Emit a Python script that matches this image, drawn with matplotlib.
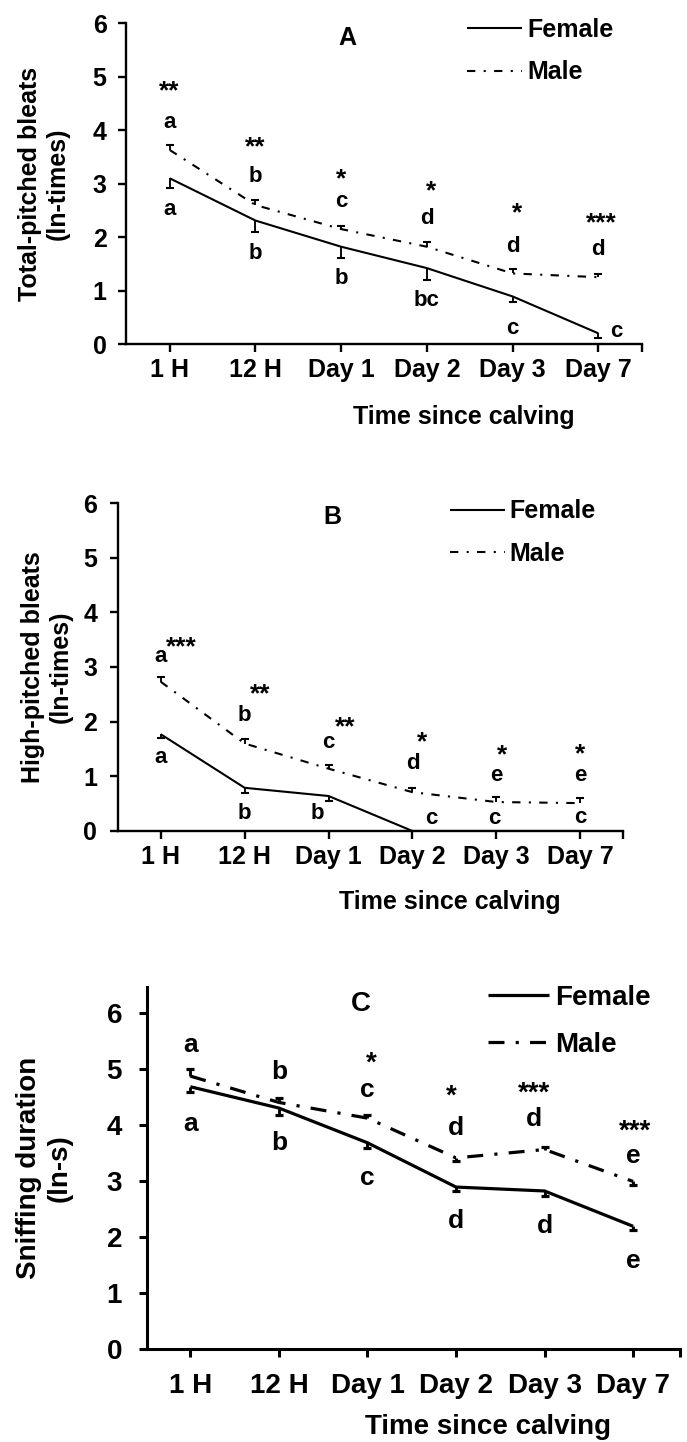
import matplotlib
matplotlib.use('Agg')
import matplotlib.pyplot as plt
from matplotlib.ticker import FixedLocator
import numpy as np

plt.rcParams['font.family'] = ['Liberation Sans', 'DejaVu Sans']
plt.rcParams['font.weight'] = 'bold'

categories = ['1 H', '12 H', 'Day 1', 'Day 2', 'Day 3', 'Day 7']
series_names = ['Female', 'Male']

# ---------------- Panel A: Total-pitched bleats ----------------
a_female = [3.10, 2.31, 1.82, 1.42, 0.89, 0.20]
a_female_err_low = [0.19, 0.21, 0.22, 0.22, 0.10, 0.09]
a_female_err_up = [0, 0, 0, 0, 0, 0]
a_male = [3.63, 2.60, 2.15, 1.82, 1.32, 1.25]
a_male_err_low = [0, 0, 0, 0, 0, 0]
a_male_err_up = [0.09, 0.09, 0.06, 0.08, 0.09, 0.06]
a_sig = ['**', '**', '*', '*', '*', '***']
a_sig_y = [4.80, 3.76, 3.16, 2.94, 2.52, 2.33]
a_sig_dx = [0, 0, 0, 0.05, 0.05, 0.03]
a_male_letters = ['a', 'b', 'c', 'd', 'd', 'd']
a_male_letters_y = [4.14, 3.13, 2.66, 2.35, 1.83, 1.76]
a_male_letters_dx = [0, 0, 0, 0, 0, 0]
a_female_letters = ['a', 'b', 'b', 'bc', 'c', 'c']
a_female_letters_y = [2.52, 1.70, 1.23, 0.82, 0.29, 0.23]
a_female_letters_dx = [0, 0, 0, 0, 0, 0.21]

# ---------------- Panel B: High-pitched bleats ----------------
b_female = [1.77, 0.79, 0.64, 0.0, 0.0, 0.0]
b_female_err_low = [0.06, 0.10, 0.10, 0, 0, 0]
b_female_err_up = [0, 0, 0, 0, 0, 0]
b_male = [2.73, 1.60, 1.14, 0.71, 0.53, 0.51]
b_male_err_low = [0, 0, 0, 0, 0, 0]
b_male_err_up = [0.09, 0.09, 0.06, 0.07, 0.09, 0.10]
b_sig = ['***', '**', '**', '*', '*', '*']
b_sig_y = [3.43, 2.58, 1.97, 1.69, 1.46, 1.47]
b_sig_dx = [0.25, 0.19, 0.20, 0.11, 0.07, 0.0]
b_male_letters = ['a', 'b', 'c', 'd', 'e', 'e']
b_male_letters_y = [3.20, 2.12, 1.61, 1.23, 1.01, 1.01]
b_male_letters_dx = [0, 0, 0, 0, 0, 0]
b_female_letters = ['a', 'b', 'b', 'c', 'c', 'c']
b_female_letters_y = [1.34, 0.32, 0.32, 0.23, 0.23, 0.24]
b_female_letters_dx = [0, 0, -0.13, 0.23, -0.03, 0]

# ---------------- Panel C: Sniffing duration ----------------
c_female = [4.68, 4.30, 3.68, 2.89, 2.82, 2.19]
c_female_err_low = [0.10, 0.12, 0.09, 0.07, 0.09, 0.07]
c_female_err_up = [0, 0, 0, 0, 0, 0]
c_male = [4.87, 4.40, 4.12, 3.41, 3.56, 2.99]
c_male_err_low = [0, 0, 0, 0.05, 0, 0.06]
c_male_err_up = [0.13, 0.08, 0.06, 0, 0.05, 0]
c_sig = ['', '', '*', '*', '***', '***']
c_sig_y = [0, 0, 5.17, 4.57, 4.63, 3.95]
c_sig_dx = [0, 0, 0.04, -0.05, -0.12, 0.02]
c_male_letters = ['a', 'b', 'c', 'd', 'd', 'e']
c_male_letters_y = [5.43, 4.94, 4.63, 3.95, 4.10, 3.44]
c_male_letters_dx = [0, 0, 0, 0, -0.12, 0]
c_female_letters = ['a', 'b', 'c', 'd', 'd', 'e']
c_female_letters_y = [4.01, 3.67, 3.05, 2.28, 2.19, 1.57]
c_female_letters_dx = [0, 0, 0, 0, 0, 0]

W, H = 687, 1442
fig = plt.figure(figsize=(W / 100, H / 100), dpi=100)


def px_axes(left, right, top, bottom):
    return fig.add_axes([left / W, (H - bottom) / H, (right - left) / W, (bottom - top) / H])


def draw_panel(ax, female, f_lo, f_up, male, m_lo, m_up, sig, sig_y, sig_dx,
               ml, ml_y, ml_dx, fl, fl_y, fl_dx, title, title_xy, ylabel,
               xlim, ylim, lw, male_dash, spine_w, fs_tick, fs_lab, fs_let,
               fs_sig, ytick_pad, xtick_pad, ylab_x, xlab_xy, leg_anchor,
               leg_space):
    x = np.arange(len(categories))
    female = np.array(female)
    male = np.array(male)
    f_lo, f_up = np.array(f_lo), np.array(f_up)
    m_lo, m_up = np.array(m_lo), np.array(m_up)

    lf, = ax.plot(x, female, color='black', lw=lw, solid_capstyle='butt',
                  label=series_names[0], zorder=3)
    lm, = ax.plot(x, male, color='black', lw=lw, dashes=male_dash,
                  dash_capstyle='butt', label=series_names[1], zorder=3)

    for vals, lo, up in [(female, f_lo, f_up), (male, m_lo, m_up)]:
        ax.errorbar(x, vals, yerr=[lo, up], fmt='none', ecolor='black',
                    elinewidth=lw * 0.9, capsize=0, zorder=3)
        ends_lo = lo > 0
        ends_up = up > 0
        ax.plot(x[ends_lo], (vals - lo)[ends_lo], ls='none', marker='_',
                ms=6, mew=lw, color='black', zorder=3)
        ax.plot(x[ends_up], (vals + up)[ends_up], ls='none', marker='_',
                ms=6, mew=lw, color='black', zorder=3)

    for i in range(len(categories)):
        if sig[i]:
            ax.annotate(sig[i], (x[i] + sig_dx[i], sig_y[i]), xytext=(0, -3),
                        textcoords='offset points', ha='center', va='center',
                        fontsize=fs_sig, fontweight='bold')
        ax.text(x[i] + ml_dx[i], ml_y[i], ml[i], ha='center', va='center',
                fontsize=fs_let, fontweight='bold')
        ax.text(x[i] + fl_dx[i], fl_y[i], fl[i], ha='center', va='center',
                fontsize=fs_let, fontweight='bold')

    ax.text(title_xy[0], title_xy[1], title, ha='center', va='center',
            fontsize=fs_lab, fontweight='bold')

    ax.set_xlim(*xlim)
    ax.set_ylim(*ylim)
    ax.set_xticks(x)
    ax.set_xticklabels(categories)
    ax.xaxis.set_minor_locator(FixedLocator([xlim[1] - 0.005]))
    ax.set_yticks(range(0, 7))
    for s in ['top', 'right']:
        ax.spines[s].set_visible(False)
    for s in ['left', 'bottom']:
        ax.spines[s].set_linewidth(spine_w)
    ax.tick_params(axis='both', which='both', direction='out', length=6,
                   width=spine_w, labelsize=fs_tick)
    ax.tick_params(axis='y', pad=ytick_pad)
    ax.tick_params(axis='x', pad=xtick_pad)
    for t in ax.get_xticklabels() + ax.get_yticklabels():
        t.set_fontweight('bold')

    ax.set_ylabel(ylabel, fontsize=fs_lab, fontweight='bold', linespacing=1.2)
    ax.yaxis.label.set_verticalalignment('center')
    ax.yaxis.set_label_coords(ylab_x, 0.5)
    ax.set_xlabel('Time since calving', fontsize=fs_lab, fontweight='bold')
    ax.xaxis.label.set_verticalalignment('center')
    ax.xaxis.set_label_coords(*xlab_xy)

    ax.legend(handles=[lf, lm], loc='upper left', bbox_to_anchor=leg_anchor,
              frameon=False, borderpad=0, borderaxespad=0, handlelength=2.2,
              handletextpad=0.2, labelspacing=leg_space,
              prop={'size': fs_lab, 'weight': 'bold'})


axA = px_axes(126, 642, 23.3, 344)
draw_panel(axA, a_female, a_female_err_low, a_female_err_up, a_male,
           a_male_err_low, a_male_err_up, a_sig, a_sig_y, a_sig_dx,
           a_male_letters, a_male_letters_y, a_male_letters_dx,
           a_female_letters, a_female_letters_y, a_female_letters_dx,
           'A', (2.07, 5.72), 'Total-pitched bleats\n(ln-times)',
           (-0.51, 5.51), (0, 6), 1.5, (4, 4, 1, 4), 1.7, 18, 18, 16, 19,
           8, 4, -0.159, (0.655, -0.228), (0.661, 1.018), 0.75)

axB = px_axes(118, 623, 503, 831)
draw_panel(axB, b_female, b_female_err_low, b_female_err_up, b_male,
           b_male_err_low, b_male_err_up, b_sig, b_sig_y, b_sig_dx,
           b_male_letters, b_male_letters_y, b_male_letters_dx,
           b_female_letters, b_female_letters_y, b_female_letters_dx,
           'B', (2.05, 5.74), 'High-pitched bleats\n(ln-times)',
           (-0.51, 5.51), (0, 6), 1.5, (4, 4, 1, 4), 1.7, 18, 18, 16, 19,
           9, 4, -0.141, (0.657, -0.216), (0.657, 1.011), 0.75)

axC = px_axes(147, 680, 987, 1349)
draw_panel(axC, c_female, c_female_err_low, c_female_err_up, c_male,
           c_male_err_low, c_male_err_up, c_sig, c_sig_y, c_sig_dx,
           c_male_letters, c_male_letters_y, c_male_letters_dx,
           c_female_letters, c_female_letters_y, c_female_letters_dx,
           'C', (1.92, 6.15), 'Sniffing duration\n(ln-s)',
           (-0.49, 5.53), (0, 6.46), 2.3, (5, 3.5, 1, 3.5), 2.2, 20, 20, 19, 20,
           12, 11, -0.193, (0.640, -0.215), (0.640, 1.006), 0.75)

fig.savefig('out.png', dpi=100)
